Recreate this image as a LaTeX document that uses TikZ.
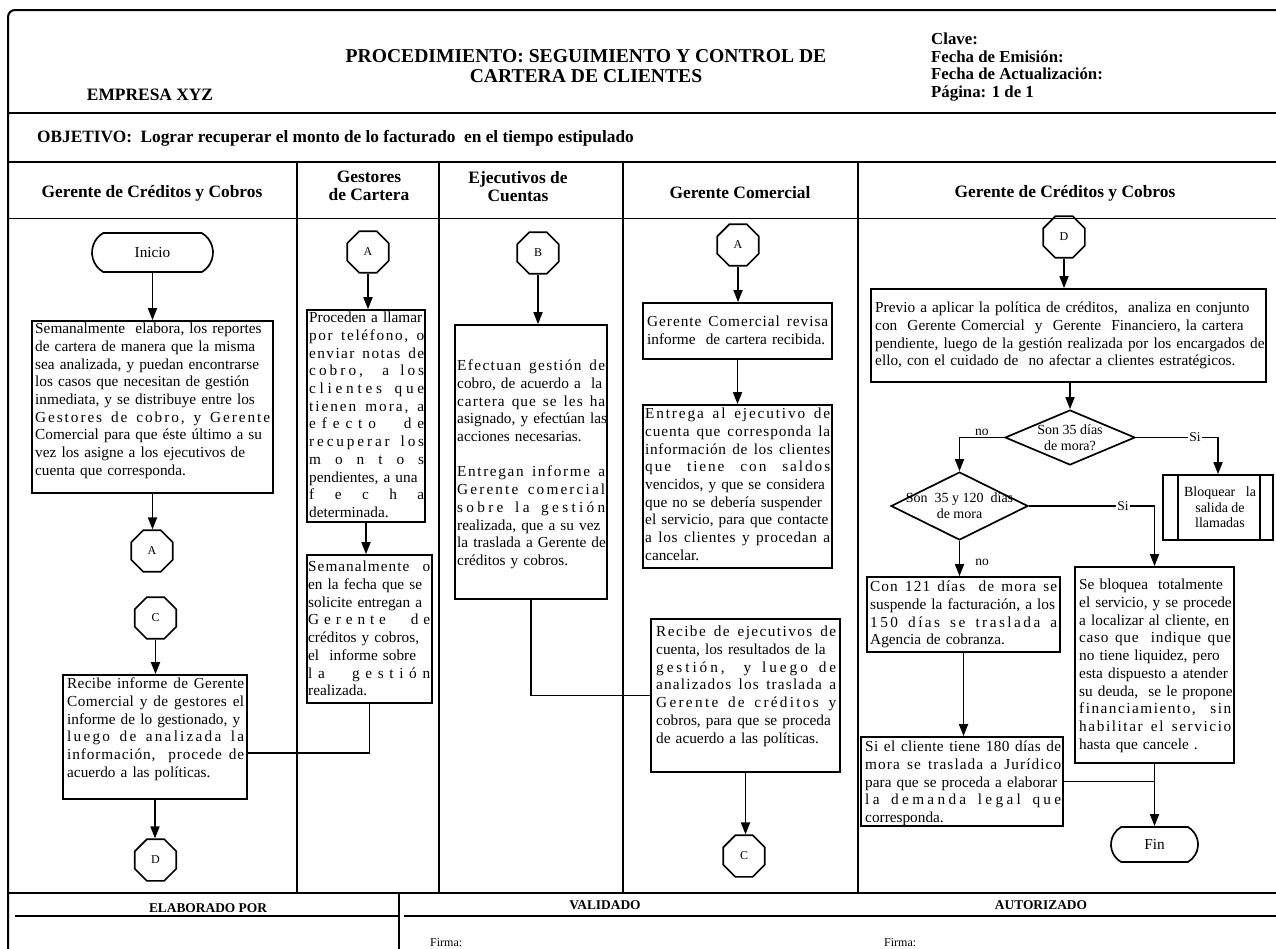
\documentclass[tikz,border=0pt]{standalone}
\usepackage{fontspec}
\setmainfont{Liberation Serif}
\usetikzlibrary{shapes.geometric,shapes.misc,arrows.meta,calc}
\newcommand\fb{\fontsize{15.3}{17.7}\selectfont}
\newcommand\J[1]{\makebox[\hsize][s]{#1}\par}
\makeatletter
\newcommand\LS[1]{\makebox[\hsize][s]{\ls@first#1\relax}\par}
\def\ls@first#1{#1\ls@next}
\def\ls@next#1{\ifx\relax#1\else\hskip0pt plus 1fil\relax#1\expandafter\ls@next\fi}
\makeatother
\tikzset{
 ln/.style={line width=1.8pt},
 arr/.style={line width=1.7pt,-{Triangle[length=12pt,width=9pt]}},
 box/.style={draw,line width=1.7pt,rectangle,inner sep=0pt},
 oct/.style={draw,line width=1.6pt,regular polygon,regular polygon sides=8,minimum size=45pt,inner sep=0pt,font=\fontsize{12}{14}\selectfont},
 term/.style={draw,line width=1.7pt,rounded rectangle,rounded rectangle arc length=120,inner sep=0pt,font=\fb},
 dia/.style={draw,line width=1.7pt,diamond,inner sep=0pt},
 tx/.style={anchor=north west,inner sep=0pt,font=\fb,text width=#1,execute at begin node=\strut},
 hd/.style={font=\bfseries\fontsize{17.4}{18}\selectfont,inner sep=0pt,align=center},
 lbl/.style={font=\fontsize{13.5}{15}\selectfont,inner sep=1pt},
 ft/.style={font=\bfseries\fontsize{13.4}{15}\selectfont,inner sep=0pt},
}
\begin{document}
\begin{tikzpicture}[x=1pt,y=-1pt]
\useasboundingbox (0,0) rectangle (1276,948);
\fill[white] (0,0) rectangle (1276,948);
% frame
\draw[line width=2pt,rounded corners=7pt] (1290,10) -- (8,10) -- (8,960);
\draw[ln] (8,113) -- (1290,113);
\draw[ln] (8,162) -- (1290,162);
\draw[ln] (8,218.5) -- (1290,218.5);
\draw[ln] (8,893) -- (1290,893);
\foreach \xx in {297,439,623,858} \draw[ln] (\xx,162) -- (\xx,893);
\draw[ln] (399,893) -- (399,960);
\draw[ln] (15,916) -- (398,916);
\draw[ln] (404,916) -- (1290,916);
% header
\node[font=\bfseries\fontsize{17.4}{19}\selectfont,inner sep=0pt] (emp) at (150,95) {EMPRESA XYZ};
\node[font=\bfseries\fontsize{19.6}{20}\selectfont,align=center,inner sep=0pt] (tit) at (586,66) {PROCEDIMIENTO: SEGUIMIENTO Y CONTROL DE\\CARTERA DE CLIENTES};
\node[font=\bfseries\fontsize{16.8}{17.8}\selectfont,align=left,anchor=west,inner sep=0pt] (cla) at (931,67) {Clave:\\Fecha de Emisión:\\Fecha de Actualización:\\Página: 1 de 1};
\node[font=\bfseries\fontsize{17.3}{19}\selectfont,anchor=west,inner sep=0pt] (obj) at (37,138) {OBJETIVO:\ \ Lograr recuperar el monto de lo facturado\ \ en el tiempo estipulado};
% lane titles
\node[hd] (h1) at (152,193) {Gerente de Créditos y Cobros};
\node[hd] (h2) at (369,186) {Gestores\\de Cartera};
\node[hd] (h3) at (518,187) {Ejecutivos de\\Cuentas};
\node[hd] (h4) at (740,193) {Gerente Comercial};
\node[hd] (h5) at (1065,193) {Gerente de Créditos y Cobros};
% footer
\node[ft] (f1) at (208,908) {ELABORADO POR};
\node[ft] (f2) at (605,905) {VALIDADO};
\node[ft] (f3) at (1041,905) {AUTORIZADO};
\node[font=\fontsize{12}{14}\selectfont,anchor=west,inner sep=0pt] (f4) at (430,943) {Firma:};
\node[font=\fontsize{12}{14}\selectfont,anchor=west,inner sep=0pt] (f5) at (884,943) {Firma:};
% lane 1
\node[term,minimum width=121pt,minimum height=39pt] (ini) at (152.5,252.5) {Inicio};
\node[box,minimum width=241pt,minimum height=172pt] (b1) at (152.5,407) {};
\node[tx=235pt] (t1) at (35,321.2) {\J{Semanalmente\ \ elabora, los reportes}\J{de cartera de manera que la misma}\J{sea analizada, y puedan encontrarse}\J{los casos que necesitan de gestión}\J{inmediata, y se distribuye entre los}\LS{Gestores~de~cobro,~y~Gerente}\J{Comercial para que éste último a su}\J{vez los asigne a los ejecutivos de}cuenta que corresponda.};
\node[oct] (A1) at (152,551) {A};
\node[oct] (C1) at (155.5,618) {C};
\node[box,minimum width=184pt,minimum height=124pt] (b8) at (155,737) {};
\node[tx=177pt] (t8) at (67,676.2) {\LS{Recibe~informe~de~Gerente}\LS{Comercial~y~de~gestores~el}\J{informe de lo gestionado, y}\LS{luego~de~analizada~la}\LS{información,~~procede~de}acuerdo a las políticas.};
\node[oct] (D1) at (155.5,860) {D};
% lane 2
\node[oct] (A2) at (368,252) {A};
\node[box,minimum width=118pt,minimum height=212pt] (b2) at (366,416) {};
\node[tx=115pt] (t2) at (309,310.2) {\J{Proceden a llamar}\LS{por~teléfono,~o}\LS{enviar~notas~de}\LS{cobro,~~a~los}\LS{clientes~que}\LS{tienen~mora,~a}\LS{efecto~~de}\LS{recuperar~los}\LS{montos}\J{pendientes, a una}\LS{fecha}determinada.};
\node[box,minimum width=125pt,minimum height=148pt] (b3) at (369.5,629) {};
\node[tx=122pt] (t3) at (308,559.2) {\LS{Semanalmente~~o}\J{en la fecha que se}\J{solicite entregan a}\LS{Gerente~~de}\J{créditos y cobros,}\J{el\ \ informe sobre}\LS{la~~gestión}realizada.};
% lane 3
\node[oct] (B) at (538,253) {B};
\node[box,minimum width=152pt,minimum height=274pt] (b4) at (531,462) {};
\node[tx=148pt] (t4) at (457,358.2) {\LS{Efectuan~gestión~de}\J{cobro, de acuerdo a\ \ la}\LS{cartera~que~se~les~ha}\J{asignado, y efectúan las}acciones necesarias.\par\mbox{}\par\LS{Entregan~informe~a}\LS{Gerente~comercial}\LS{sobre~la~gestión}\J{realizada, que a su vez}\J{la traslada a Gerente de}créditos y cobros.};
% lane 4
\node[oct] (A3) at (738,245) {A};
\node[box,minimum width=189pt,minimum height=56pt] (b5) at (737.5,331) {};
\node[tx=181pt] (t5) at (647,314.2) {\LS{Gerente~Comercial~revisa}informe\ \ de cartera recibida.};
\node[box,minimum width=189pt,minimum height=163pt] (b6) at (737.5,486.5) {};
\node[tx=185pt] (t6) at (645,406.2) {\LS{Entrega~al~ejecutivo~de}\LS{cuenta~que~corresponda~la}\LS{información~de~los~clientes}\LS{que~~tiene~~con~~saldos}\J{vencidos, y que se considera}\J{que no se debería suspender}\J{el servicio, para que contacte}\LS{a~los~clientes~y~procedan~a}cancelar.};
\node[box,minimum width=189pt,minimum height=153pt] (b7) at (745.5,695.5) {};
\node[tx=180pt] (t7) at (656,624.2) {\LS{Recibe~de~ejecutivos~de}\J{cuenta, los resultados de la}\LS{gestión,~~y~luego~de}\LS{analizados~los~traslada~a}\LS{Gerente~de~créditos~y}\J{cobros, para que se proceda}de acuerdo a las políticas.};
\node[oct] (C3) at (744,856) {C};
% lane 5
\node[oct] (D2) at (1064,237) {D};
\node[box,minimum width=395pt,minimum height=93pt] (b9) at (1068.5,335.5) {};
\node[tx=387pt] (t9) at (875,300.2) {\J{Previo a aplicar la política de créditos,\ \ analiza en conjunto}\J{con\ \ Gerente Comercial\ \ y\ \ Gerente\ \ Financiero, la cartera}\J{pendiente, luego de la gestión realizada por los encargados de}ello, con el cuidado de\ \ no afectar a clientes estratégicos.};
\node[dia,minimum width=130pt,minimum height=55pt] (d1) at (1070,437.5) {};
\node[font=\fontsize{14}{16}\selectfont,align=center,inner sep=0pt] (d1t) at (1070,438) {Son 35 días\\de mora?};
\node[dia,minimum width=137pt,minimum height=68pt] (d2) at (959.5,506) {};
\node[font=\fontsize{14}{15.5}\selectfont,align=center,inner sep=0pt] (d2t) at (959.5,505.5) {Son\ \ 35 y 120\ \ días\\de mora};
\node[box,minimum width=110pt,minimum height=65pt] (bq) at (1218,507.5) {};
\draw[ln] ([xshift=16pt]bq.north west) -- ([xshift=16pt]bq.south west);
\draw[ln] ([xshift=-14pt]bq.north east) -- ([xshift=-14pt]bq.south east);
\node[font=\fontsize{14}{15.5}\selectfont,align=center,inner sep=0pt] (bqt) at (1220,507.5) {Bloquear\ \ \ la\\salida de\\llamadas};
\node[box,minimum width=193pt,minimum height=75pt] (b10) at (963.5,614.5) {};
\node[tx=187pt] (t10) at (870,579.2) {\LS{Con~121~días~~de~mora~se}\J{suspende la facturación, a los}\LS{150~días~se~traslada~a}Agencia de cobranza.};
\node[box,minimum width=202pt,minimum height=89pt] (b11) at (962,781.5) {};
\node[tx=196pt] (t11) at (865,739.2) {\LS{Si~el~cliente~tiene~180~días~de}\LS{mora~se~traslada~a~Jurídico}\J{para que se proceda a elaborar}\LS{la~demanda~legal~que}corresponda.};
\node[box,minimum width=159pt,minimum height=196pt] (b12) at (1154.5,665) {};
\node[tx=152pt] (t12) at (1079,577.2) {\J{Se bloquea\ \ totalmente}\J{el servicio, y se procede}\J{a localizar al cliente, en}\LS{caso~que~~indique~que}\J{no tiene liquidez, pero}\J{esta dispuesto a atender}\J{su deuda,\ \ se le propone}\LS{financiamiento,~~sin}\LS{habilitar~el~servicio}hasta que cancele .};
\node[term,minimum width=87pt,minimum height=35pt] (fin) at (1154.5,844.5) {Fin};
% connectors
\coordinate (j1) at (0,753);
\draw[arr] (ini.south) -- (ini.south |- b1.north);
\draw[arr] (b1.south) -- (b1.south |- A1.north);
\draw[arr] (C1.south) -- (C1.south |- b8.north);
\draw[arr] (b8.south) -- (b8.south |- D1.north);
\draw[arr] (A2.south) -- (A2.south |- b2.north);
\draw[arr] (b2.south) -- (b2.south |- b3.north);
\draw[ln] (b3.south) -- (b3.south |- j1) -- (b8.east |- j1);
\draw[arr] (B.south) -- (B.south |- b4.north);
\draw[ln] (b4.south) |- (b7.west);
\draw[arr] (A3.south) -- (A3.south |- b5.north);
\draw[arr] (b5.south) -- (b5.south |- b6.north);
\draw[arr] (b7.south) -- (b7.south |- C3.north);
\draw[arr] (D2.south) -- (D2.south |- b9.north);
\draw[arr] (d1.north |- b9.south) -- (d1.north);
\draw[arr] (d1.west) -| node[pos=0.25,above,lbl] (no1) {no} (d2.north);
\draw[arr] (d1.east) -| node[pos=0.36,lbl,fill=white] (si1) {Si} (bq.north);
\draw[arr] (d2.south) -- node[pos=0.6,right=14pt,lbl] (no2) {no} (d2.south |- b10.north);
\draw[arr] (d2.east) -| node[pos=0.375,lbl,fill=white] (si2) {Si} (b12.north);
\draw[arr] (b10.south) -- (b10.south |- b11.north);
\draw[arr] (b12.south) -- (fin.north);
\draw[ln] (b11.east) -- (b11.east -| b12.south);
\end{tikzpicture}
\end{document}
